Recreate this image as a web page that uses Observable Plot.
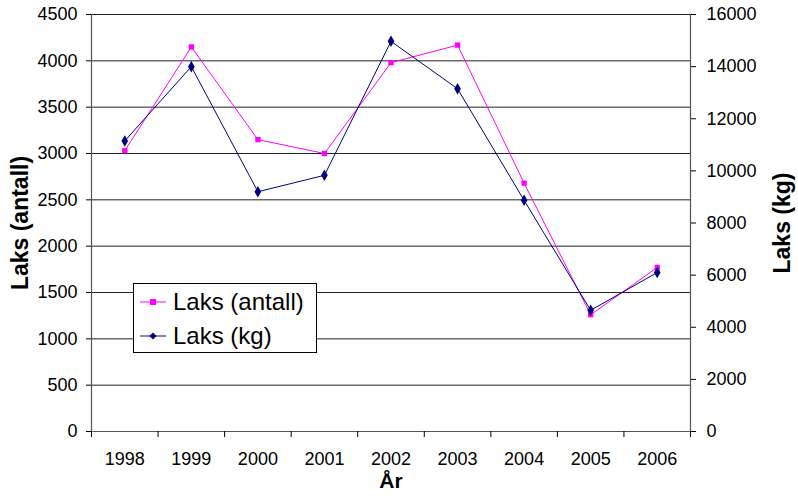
<!DOCTYPE html>
<html><head><meta charset="utf-8">
<script src="https://cdn.jsdelivr.net/npm/d3@7"></script>
<script src="https://cdn.jsdelivr.net/npm/@observablehq/plot@0.6"></script>
<style>
body{margin:0;background:#fff;font-family:"Liberation Sans",Arial,sans-serif;}
#wrap{position:relative;width:798px;height:498px;}
#legend{position:absolute;left:133px;top:283px;width:184px;height:70px;border:1px solid #000;background:#fff;box-sizing:border-box;font-size:24px;color:#000;}
#legend .row{position:absolute;left:6px;height:30px;display:flex;align-items:center;}
#legend .row span{margin-left:7px;}
</style></head>
<body><div id="wrap"><div id="chart"></div>
<div id="legend">
 <div class="row" style="top:3px"><svg width="26" height="10"><line x1="0" y1="5" x2="26" y2="5" stroke="#ff00ff"/><rect x="10" y="2" width="6" height="6" fill="#ff00ff"/></svg><span>Laks (antall)</span></div>
 <div class="row" style="top:37px"><svg width="26" height="10"><line x1="0" y1="5" x2="26" y2="5" stroke="#000080"/><path d="M13,1.5L16.5,5L13,8.5L9.5,5Z" fill="#000080"/></svg><span>Laks (kg)</span></div>
</div></div>
<script>
const years = [1998, 1999, 2000, 2001, 2002, 2003, 2004, 2005, 2006];
const antall = [3030, 4150, 3150, 3000, 3980, 4170, 2680, 1260, 1770];
const kg = [11150, 14000, 9200, 9830, 14970, 13150, 8870, 4650, 6100];
const leftTicks = [0, 500, 1000, 1500, 2000, 2500, 3000, 3500, 4000, 4500];
const rightTicks = [0, 2000, 4000, 6000, 8000, 10000, 12000, 14000, 16000];

const k = 4500 / 16000;
const rowsA = years.map((y, i) => ({year: y, v: antall[i]}));
const rowsK = years.map((y, i) => ({year: y, v: kg[i] * k}));
const bounds = years.map(y => y - 0.5).concat([years[years.length - 1] + 0.5]);

const chart = Plot.plot({
  width: 798, height: 498,
  marginLeft: 91, marginRight: 108, marginTop: 14, marginBottom: 67,
  style: {fontFamily: "Liberation Sans, Arial, sans-serif", fontSize: "18px", color: "#000", background: "#fff"},
  x: {domain: [bounds[0], bounds[bounds.length - 1]]},
  y: {domain: [0, 4500]},
  marks: [
    Plot.gridY(leftTicks.slice(1), {stroke: "#222", strokeOpacity: 1}),
    Plot.ruleX([bounds[0], bounds[bounds.length - 1]], {stroke: "#555", strokeWidth: 1.2}),
    Plot.ruleY([0], {stroke: "#555", strokeWidth: 1.2}),
    Plot.axisY(leftTicks, {tickSize: 5, tickPadding: 9, label: null, tickFormat: d => String(d)}),
    Plot.axisY(rightTicks.map(v => v * k), {anchor: "right", tickSize: 5, tickPadding: 11, label: null, tickFormat: d => String(Math.round(d / k))}),
    Plot.axisX(years, {tickSize: 0, tickPadding: 21, label: null, tickFormat: d => String(d)}),
    Plot.axisX(bounds, {tickSize: 6, label: null, tickFormat: () => ""}),
    Plot.line(rowsA, {x: "year", y: "v", stroke: "#ff00ff", strokeWidth: 1}),
    Plot.dot(rowsA, {x: "year", y: "v", symbol: "square", r: 3, fill: "#ff00ff", stroke: "none"}),
    Plot.line(rowsK, {x: "year", y: "v", stroke: "#000080", strokeWidth: 1}),
    Plot.dot(rowsK, {x: "year", y: "v", symbol: "diamond", r: 3.5, fill: "#000080", stroke: "none"}),
    Plot.text(["Laks (antall)"], {frameAnchor: "left", textAnchor: "middle", dx: -71, rotate: -90, fontSize: 23, fontWeight: "bold", fill: "#000"}),
    Plot.text(["Laks (kg)"], {frameAnchor: "right", textAnchor: "middle", dx: 92, rotate: -90, fontSize: 23, fontWeight: "bold", fill: "#000"}),
    Plot.text(["År"], {frameAnchor: "bottom", textAnchor: "middle", dy: 56, fontSize: 21, fontWeight: "bold", fill: "#000"})
  ]
});
document.getElementById("chart").appendChild(chart);
</script>
</body></html>
